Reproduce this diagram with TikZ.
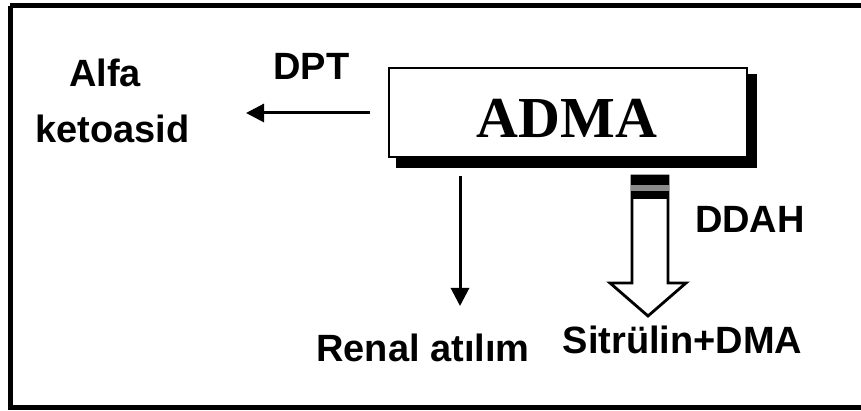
\documentclass[tikz,border=0pt]{standalone}
\usepackage{fontspec}
\setmainfont{Liberation Sans}
\newfontfamily\serifbold{Liberation Serif}[BoldFont={* Bold}]
\usetikzlibrary{arrows.meta}
\begin{document}
\begin{tikzpicture}[x=1pt,y=-1pt,
  lbl/.style={anchor=base,inner sep=0pt,font=\fontsize{38}{40}\selectfont\bfseries},
  thinarr/.style={line width=3pt,-{Triangle[length=18pt,width=18pt]}},
  hollow/.style={draw=black,line width=2.8pt,fill=white,line join=miter}]
\useasboundingbox (0,0) rectangle (861,411);
\fill[white] (0,0) rectangle (861,411);
\begin{scope}
\clip (0,0) rectangle (861,411);
\draw[line width=5pt] (10,6) -- (880,6);
\draw[line width=5pt] (10,6) -- (10,407.5) -- (880,407.5);
\end{scope}
% shadow and box
\fill[black] (396,74) rectangle (757,168);
\node[draw=black,line width=2.6pt,fill=white,minimum width=358pt,minimum height=89pt,inner sep=0pt] (adma) at (568,112.5) {};
\node[anchor=base,inner sep=0pt,font=\serifbold\fontsize{58}{60}\selectfont\bfseries] (admatext) at (567,138) {ADMA};
% texts
\node[lbl] (alfa) at (105,87) {Alfa};
\node[lbl] (keto) at (112.5,143) {ketoasid};
\node[lbl] (dpt) at (311.5,80) {DPT};
\node[lbl] (ddah) at (750,233) {DDAH};
\node[lbl] (sitr) at (682.5,353) {Sitrülin+DMA};
\node[lbl] (renal) at (423,361) {Renal atılım};
% connectors
\coordinate (dptstart) at (370,113);
\coordinate (dptend) at (246,113);
\draw[thinarr] (dptstart) -- (dptend);
\coordinate (renstart) at (460,176);
\coordinate (renend) at (460,306);
\draw[thinarr] (renstart) -- (renend);
% hollow arrow
\coordinate (htip) at (648,316);
\draw[hollow] (632,176) -- (632,283) -- (610,283) -- (htip) -- (686,283) -- (668,283) -- (668,176) -- cycle;
\fill[black] (631,176) rectangle (669,185);
\fill[black!45] (631,185) rectangle (669,191);
\fill[black] (631,191) rectangle (669,199);
\end{tikzpicture}
\end{document}
